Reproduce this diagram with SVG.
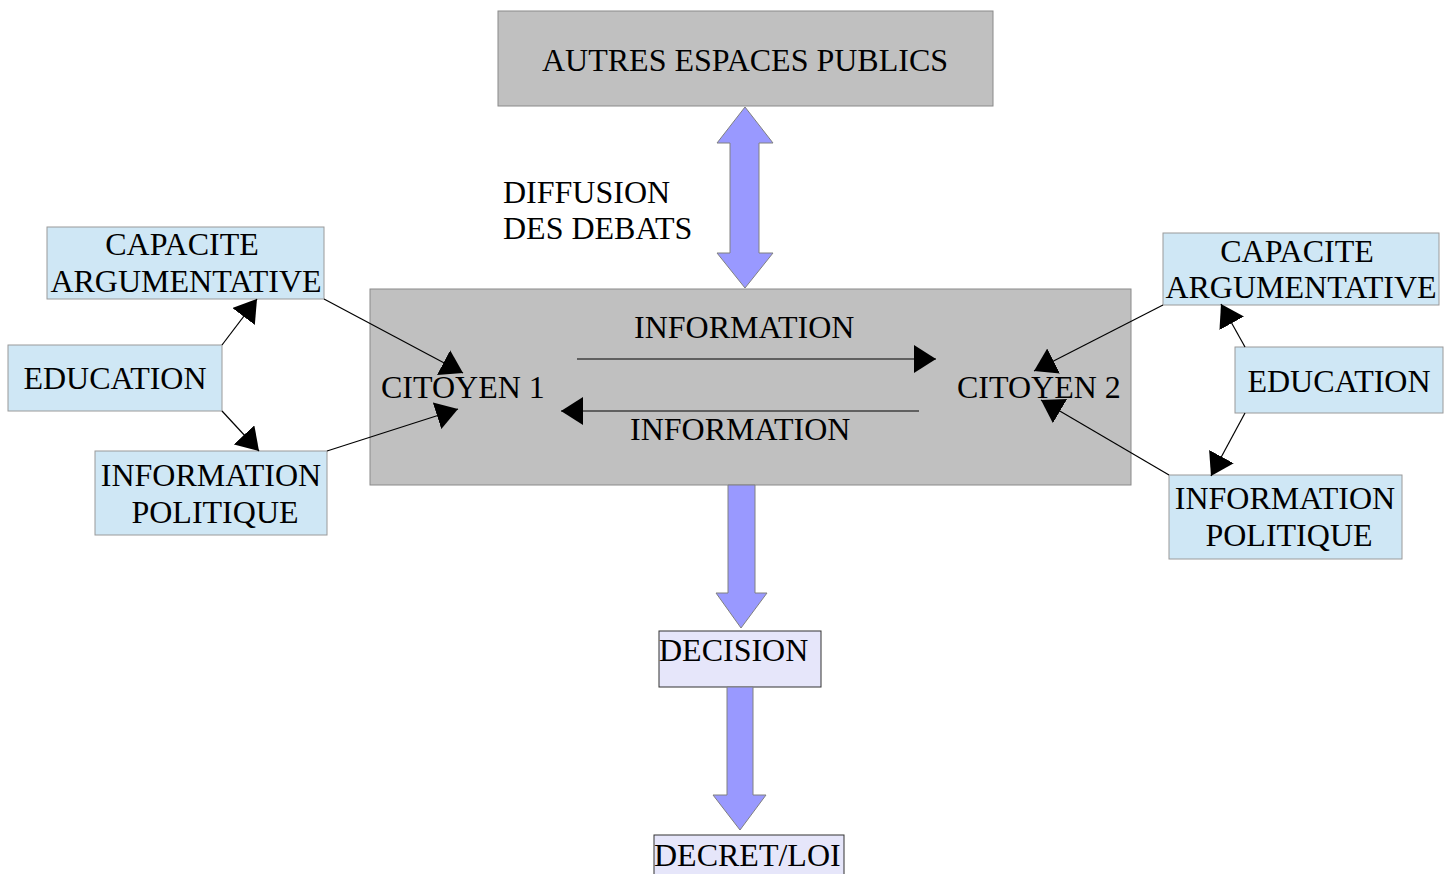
<svg xmlns="http://www.w3.org/2000/svg" width="1449" height="874" viewBox="0 0 1449 874">
<style>
text{font-family:"Liberation Serif","Times New Roman",serif;font-size:32px;fill:#000}
.gray{fill:#c0c0c0;stroke:#8a8a8a;stroke-width:1}
.blue{fill:#cfe7f5;stroke:#9a9a9a;stroke-width:1}
.lav{fill:#e6e6fa;stroke:#333;stroke-width:1}
.fat{fill:#9999ff;stroke:#808080;stroke-width:1}
.thin{stroke:#000;stroke-width:1.2;fill:none;marker-end:url(#ah)}
</style>
<defs>
<marker id="ah" markerUnits="userSpaceOnUse" markerWidth="23" markerHeight="28" refX="22" refY="14" orient="auto" viewBox="0 0 23 28">
<path d="M0,0 L22,14 L0,28 z" fill="#000"/>
</marker>
</defs>
<rect width="1449" height="874" fill="#fff"/>
<g id="autres">
<rect class="gray" x="498" y="11" width="495" height="95"/>
<text x="745" y="71" text-anchor="middle">AUTRES ESPACES PUBLICS</text>
</g>
<g id="espace">
<rect class="gray" x="370" y="289" width="761" height="196"/>
<text x="381" y="398">CITOYEN 1</text>
<text x="957" y="398">CITOYEN 2</text>
<text x="634" y="338">INFORMATION</text>
<text x="630" y="440">INFORMATION</text>
</g>
<g id="diffusion">
<text x="503" y="203">DIFFUSION</text>
<text x="503" y="239">DES DEBATS</text>
</g>
<g id="cap1">
<rect class="blue" x="47" y="227" width="277" height="72"/>
<text x="182" y="255" text-anchor="middle">CAPACITE</text>
<text x="186" y="292" text-anchor="middle">ARGUMENTATIVE</text>
</g>
<g id="edu1">
<rect class="blue" x="8" y="345" width="214" height="66"/>
<text x="115" y="389" text-anchor="middle">EDUCATION</text>
</g>
<g id="info1">
<rect class="blue" x="95" y="451" width="232" height="84"/>
<text x="211" y="486" text-anchor="middle">INFORMATION</text>
<text x="215" y="523" text-anchor="middle">POLITIQUE</text>
</g>
<g id="cap2">
<rect class="blue" x="1163" y="233" width="276" height="72"/>
<text x="1297" y="262" text-anchor="middle">CAPACITE</text>
<text x="1301" y="298" text-anchor="middle">ARGUMENTATIVE</text>
</g>
<g id="edu2">
<rect class="blue" x="1235" y="347" width="208" height="66"/>
<text x="1339" y="392" text-anchor="middle">EDUCATION</text>
</g>
<g id="info2">
<rect class="blue" x="1169" y="475" width="233" height="84"/>
<text x="1285" y="509" text-anchor="middle">INFORMATION</text>
<text x="1289" y="546" text-anchor="middle">POLITIQUE</text>
</g>
<g id="decision">
<rect class="lav" x="659" y="631" width="162" height="56"/>
<text x="659" y="661">DECISION</text>
</g>
<g id="decret">
<rect class="lav" x="654" y="835" width="190" height="50"/>
<text x="654" y="866">DECRET/LOI</text>
</g>
<g id="connectors">
<path class="fat" d="M745,107 L773,143 L759,143 L759,253 L773,253 L745,288 L717,253 L730,253 L730,143 L717,143 Z"/>
<path class="fat" d="M728,485 L755,485 L755,593 L767,593 L741,628 L716,593 L728,593 Z"/>
<path class="fat" d="M727,687 L753,687 L753,795 L766,795 L740,830 L713,795 L727,795 Z"/>
<line class="thin" x1="577" y1="359" x2="936" y2="359"/>
<line class="thin" x1="919" y1="411" x2="561" y2="411"/>
<line class="thin" x1="222" y1="345" x2="257" y2="299"/>
<line class="thin" x1="222" y1="411" x2="259" y2="451"/>
<line class="thin" x1="324" y1="299" x2="463" y2="373"/>
<line class="thin" x1="327" y1="451" x2="458" y2="409"/>
<line class="thin" x1="1163" y1="305" x2="1034" y2="371"/>
<line class="thin" x1="1245" y1="347" x2="1221" y2="304"/>
<line class="thin" x1="1245" y1="413" x2="1211" y2="476"/>
<line class="thin" x1="1169" y1="475" x2="1041" y2="400"/>
</g>
</svg>
